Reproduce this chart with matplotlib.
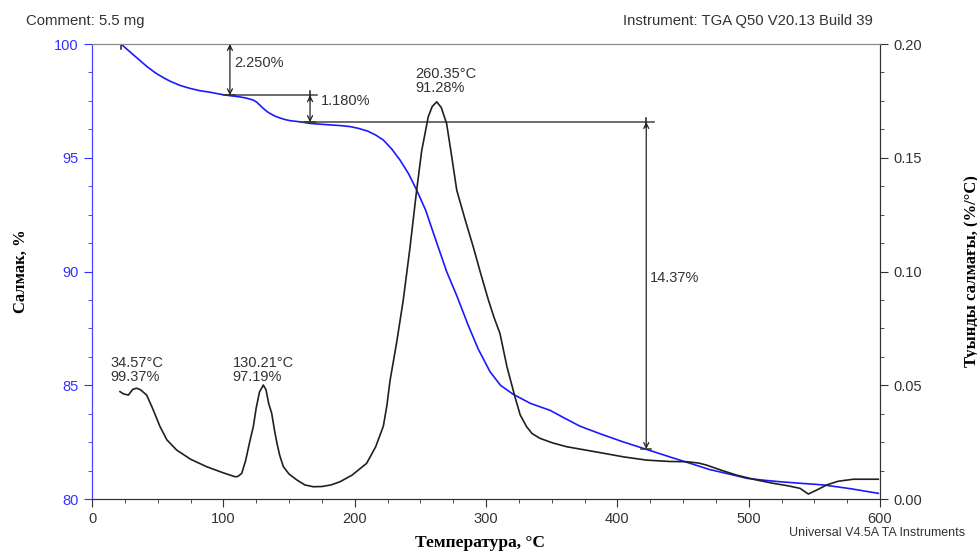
import matplotlib.pyplot as plt
import numpy as np

# weight curve (left axis, %)
w_temp = [22.1, 28, 35, 42, 48.8, 55, 60, 67, 74.6, 82, 90, 97, 105, 112, 117, 120, 122.6,
          125.5, 128, 131, 133.5, 135.5, 139, 143, 147, 150.8, 158.4, 166, 180, 190, 196.5,
          203, 210, 216, 221.8, 228, 234.5, 241, 247.2, 254, 260, 270, 278, 286, 294, 303,
          311, 320.8, 334, 348.7, 360, 371.6, 386.8, 405, 422.3, 440, 455.4, 470, 485,
          498.6, 511, 523.9, 540, 557, 578, 598.7]
w_val = [100.0, 99.7, 99.35, 99.0, 98.71, 98.5, 98.35, 98.18, 98.05, 97.95, 97.88, 97.8,
         97.73, 97.68, 97.63, 97.58, 97.54, 97.44, 97.3, 97.14, 97.02, 96.95, 96.84, 96.75,
         96.68, 96.63, 96.58, 96.51, 96.45, 96.41, 96.37, 96.29, 96.17, 96.0, 95.78, 95.4,
         94.9, 94.3, 93.58, 92.7, 91.68, 90.0, 88.9, 87.7, 86.6, 85.6, 85.0, 84.6, 84.2,
         83.9, 83.55, 83.2, 82.87, 82.5, 82.18, 81.85, 81.57, 81.3, 81.1, 80.91, 80.83,
         80.76, 80.69, 80.62, 80.45, 80.25]

# derivative weight curve (right axis, %/°C)
d_temp = [21.3, 24, 27.7, 31, 34, 37, 41.6, 46, 51.8, 57, 64.5, 75, 87.3, 100, 108.9, 111,
          114, 117, 120, 122.8, 125, 127.5, 130.4, 132.5, 134.5, 136.8, 139, 141, 143,
          145.7, 150, 155.9, 162, 168.5, 175, 182, 188.8, 198, 209.1, 216, 221.8, 224.5,
          226.9, 232, 237, 242, 247.2, 251, 256, 259, 262.5, 266, 270, 273.5, 277.7, 284,
          290.3, 296, 301.8, 306, 310.6, 316, 322, 326, 330.9, 335, 341, 350, 361.3, 386.8,
          405, 422.3, 440, 452.8, 462, 468, 480, 490.9, 505, 518.8, 530, 539.1, 545.4, 552,
          559.4, 568, 579.7, 598.7]
d_val = [0.0472, 0.0462, 0.0457, 0.0482, 0.0487, 0.0480, 0.0457, 0.0400, 0.0318, 0.0260,
         0.0215, 0.0175, 0.0142, 0.0115, 0.0098, 0.0099, 0.0113, 0.0170, 0.0250, 0.0318,
         0.0400, 0.0470, 0.0501, 0.0480, 0.0420, 0.0377, 0.0300, 0.0240, 0.0190, 0.0142,
         0.0110, 0.0084, 0.0062, 0.0054, 0.0055, 0.0062, 0.0076, 0.0105, 0.0157, 0.0230,
         0.0320, 0.0410, 0.0520, 0.0690, 0.0875, 0.1100, 0.1358, 0.1530, 0.1680, 0.1725,
         0.1746, 0.1720, 0.1650, 0.1520, 0.1358, 0.1230, 0.1108, 0.0990, 0.0875, 0.0800,
         0.0728, 0.0580, 0.0450, 0.0370, 0.0318, 0.0288, 0.0267, 0.0248, 0.0230, 0.0204,
         0.0185, 0.0171, 0.0165, 0.0164, 0.0158, 0.0149, 0.0125, 0.0105, 0.0085, 0.0069,
         0.0058, 0.0047, 0.0022, 0.0040, 0.0062, 0.0078, 0.0087, 0.0087]

# step annotations: (temperature, upper %, lower %, label, label y)
steps = [(105, 100.0, 97.75, '2.250%', 99.15),
         (166, 97.75, 96.57, '1.180%', 97.5),
         (422, 96.57, 82.20, '14.37%', 89.7)]
# step baselines: (from °C, to °C, level %)
baselines = [(22, 108, 100.0), (100, 171, 97.75), (158, 428, 96.57)]
peaks = [(14, 86.3, '34.57°C\n99.37%'),
         (107, 86.3, '130.21°C\n97.19%'),
         (246, 99.0, '260.35°C\n91.28%')]

plt.rcParams['font.family'] = ['Liberation Sans', 'DejaVu Sans']
fig = plt.figure(figsize=(9.78, 5.53), dpi=100)
ax = fig.add_axes([0.0941, 0.0976, 0.8057, 0.8228])
ax2 = ax.twinx()

ax.plot(w_temp, w_val, color='#1a1aff', lw=1.2)
ax2.plot(d_temp, d_val, color='#202020', lw=1.2)

ax.set_xlim(0, 600)
ax.set_ylim(80, 100)
ax2.set_ylim(0, 0.2)
ax.set_xticks(np.arange(0, 601, 100))
ax.set_xticks(np.arange(0, 601, 25), minor=True)
ax.set_yticks(np.arange(80, 101, 5))
ax.set_yticks(np.arange(80, 100.1, 1.25), minor=True)
ax2.set_yticks(np.arange(0, 0.201, 0.05))
ax2.set_yticks(np.arange(0, 0.2001, 0.0125), minor=True)
ax2.yaxis.set_major_formatter(plt.FormatStrFormatter('%.2f'))

ax.tick_params(axis='x', which='both', colors='#333333', labelsize=10.5, direction='out')
ax.tick_params(axis='y', which='both', colors='#3333ff', labelsize=10.5, direction='out')
ax2.tick_params(axis='y', which='both', colors='#333333', labelsize=10.5, direction='out')
for a in (ax, ax2):
    a.tick_params(which='major', length=6)
    a.tick_params(which='minor', length=3)
    a.spines['left'].set_color('#4444ff')
    a.spines['bottom'].set_color('#333333')
    a.spines['right'].set_color('#333333')
    a.spines['top'].set_color('#888888')

# step annotations
for x0, x1, lev in baselines:
    ax.plot([x0, x1], [lev, lev], color='#444444', lw=1.1)
ax.plot([22, 22], [99.8, 100.2], color='#222222', lw=1.1)
for t, hi, lo, lab, ly in steps:
    ax.annotate('', xy=(t, lo), xytext=(t, hi),
                arrowprops=dict(arrowstyle='<->', color='#222222', lw=0.9,
                                mutation_scale=9, shrinkA=0, shrinkB=0))
    ax.plot([t - 4, t + 4], [lo, lo], color='#333333', lw=1.1)
    ax.plot([t, t], [hi - 0.2, hi + 0.2], color='#222222', lw=1.1)
    ax.text(t + 8 if t == 166 else t + 3, ly, lab, fontsize=10.5, color='#333333',
            va='center', ha='left')

for t, y, lab in peaks:
    ax.text(t, y, lab, fontsize=10.5, color='#333333', va='top', ha='left', linespacing=1.0)

fig.text(0.4913, 0.004, 'Температура, °C', family='Liberation Serif', fontweight='bold',
         fontsize=12.5, ha='center', va='bottom')
ax.set_ylabel('Салмак, %', family='Liberation Serif', fontweight='bold',
              fontsize=12, labelpad=18)
ax2.set_ylabel('Туынды салмағы, (%/°C)', family='Liberation Serif', fontweight='bold',
               fontsize=12, labelpad=30)

fig.text(0.027, 0.962, 'Comment: 5.5 mg', fontsize=10.7, color='#333333', va='center')
fig.text(0.893, 0.962, 'Instrument: TGA Q50 V20.13 Build 39', fontsize=10.7,
         color='#333333', va='center', ha='right')
fig.text(0.987, 0.037, 'Universal V4.5A TA Instruments', fontsize=9,
         color='#333333', va='center', ha='right')

fig.savefig('out.png', dpi=100)
